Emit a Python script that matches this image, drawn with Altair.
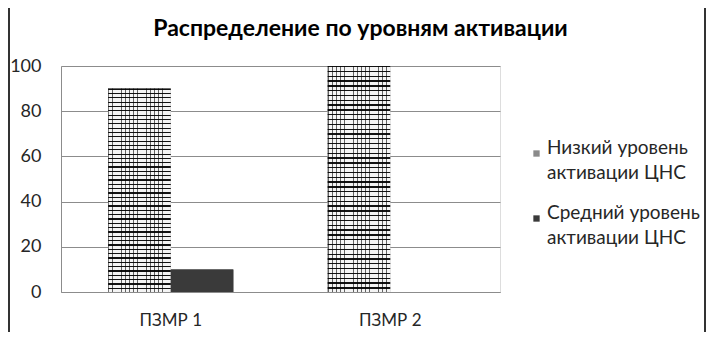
import altair as alt
import pandas as pd

categories = ["ПЗМР 1", "ПЗМР 2"]
series = ["Низкий уровень активации ЦНС", "Средний уровень активации ЦНС"]
low_values = [90, 100]
mid_values = [10, 0]
y_ticks = [0, 20, 40, 60, 80, 100]

rows = []
for c, lv, mv in zip(categories, low_values, mid_values):
    rows.append({"cat": c, "s": series[0], "v": lv})
    rows.append({"cat": c, "s": series[1], "v": mv})
df = pd.DataFrame(rows)

FONT = "Lato"

# brick-like pattern built from gradient stripes (styling only)
def stripes(n, frac, dark, light, vertical):
    stops = []
    for i in range(n):
        a = i / n
        b = (i + frac) / n
        stops += [{"offset": a, "color": dark}, {"offset": b, "color": dark},
                  {"offset": b, "color": light}, {"offset": (i + 1) / n, "color": light}]
    g = {"gradient": "linear", "stops": stops}
    if vertical:
        g.update({"x1": 0, "y1": 0, "x2": 0, "y2": 1})
    else:
        g.update({"x1": 0, "y1": 0, "x2": 1, "y2": 0})
    return g

h_grad = stripes(47, 0.28, "#111111", "#f4f4f4", True)
v_grad = stripes(15, 0.2, "rgba(0,0,0,0.6)", "rgba(0,0,0,0)", False)

x_enc = alt.X("cat:N", sort=categories, title=None,
              scale=alt.Scale(paddingInner=0.43, paddingOuter=0.215),
              axis=alt.Axis(labelAngle=0, ticks=False, domainColor="#8c8c8c",
                            labelFontSize=17, labelColor="#262626", labelPadding=20,
                            labelFont=FONT))
y_enc = alt.Y("v:Q", title=None,
              scale=alt.Scale(domain=[0, 100], nice=False),
              axis=alt.Axis(values=y_ticks, ticks=False, domainColor="#8c8c8c",
                            gridColor="#8c8c8c", labelFontSize=18, labelColor="#262626",
                            labelPadding=20, labelFont=FONT))
xo = alt.XOffset("s:N", sort=series)

base = alt.Chart(df).mark_bar().encode(
    x=x_enc, y=y_enc, xOffset=xo,
    color=alt.Color("s:N", sort=series,
                    scale=alt.Scale(domain=series, range=["#8a8a8a", "#3a3a3a"]),
                    legend=alt.Legend(title=None, orient="none", legendX=466, legendY=78,
                                      symbolType="square", symbolSize=40,
                                      symbolStrokeWidth=0,
                                      labelFontSize=19, labelFont=FONT, labelColor="#262626",
                                      labelBaseline="alphabetic",
                                      labelLimit=300, rowPadding=20, labelOffset=1,
                                      labelExpr="[slice(datum.label, 0, indexof(datum.label, ' активации')), slice(datum.label, indexof(datum.label, ' активации') + 1)]")),
)

is_low = alt.datum.s == series[0]
pat1 = alt.Chart(df).mark_bar().encode(
    x=x_enc, y=y_enc, xOffset=xo,
    fill=alt.when(is_low).then(alt.value(h_grad)).otherwise(alt.value("#3a3a3a")),
)
pat2 = alt.Chart(df).transform_filter(is_low).mark_bar().encode(
    x=x_enc, y=y_enc, xOffset=xo,
    fill=alt.value(v_grad),
)

frame = alt.Chart(df).mark_rule(color="#333333", strokeWidth=2).encode(
    x=alt.value(-52), y=alt.value(-58), y2=alt.value(266)
) + alt.Chart(df).mark_rule(color="#333333", strokeWidth=2).encode(
    x=alt.value(644), y=alt.value(-58), y2=alt.value(266)
)

chart = (base + pat1 + pat2 + frame).properties(
    width=439, height=226,
    title=alt.TitleParams("Распределение по уровням активации", fontSize=23,
                          font=FONT, fontWeight="bold", color="#000000",
                          anchor="middle", frame="group", dx=80, offset=-34),
    padding={"left": 53, "top": 58, "right": 211, "bottom": 40},
).configure_view(stroke=None).configure(
    background="white", autosize="none",
    style={"guide-label": {"lineHeight": 25}},
)

chart.save("out.html", embed_options={"renderer": "svg", "actions": False})
